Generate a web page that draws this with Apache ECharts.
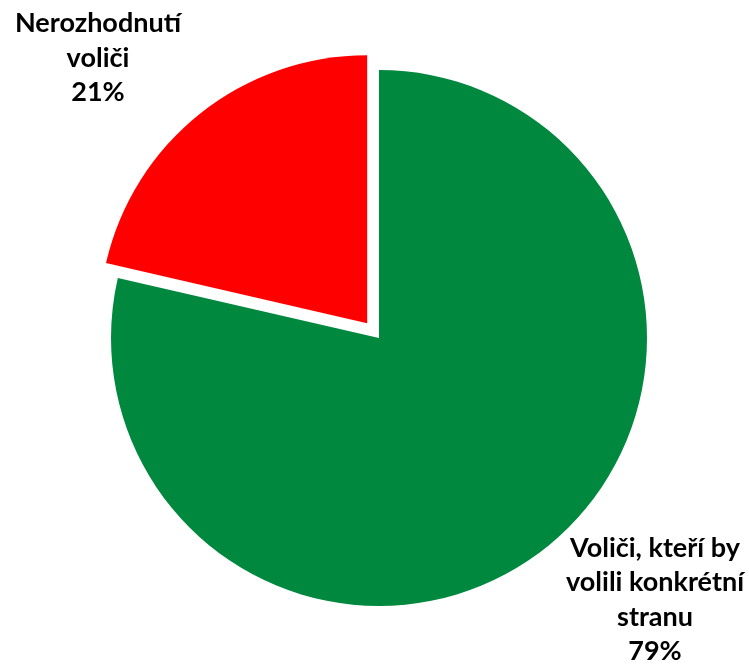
<!DOCTYPE html>
<html><head><meta charset="utf-8">
<script src="https://cdn.jsdelivr.net/npm/echarts@6/dist/echarts.min.js"></script>
<style>html,body{margin:0;padding:0;background:#fff}#c{width:749px;height:668px}</style>
</head><body><div id="c"></div>
<script>
const categories = ['Voliči, kteří by\nvolili konkrétní\nstranu', 'Nerozhodnutí\nvoliči'];
const values = [78.6, 21.4];
const colors = ['#00883E', '#FF0000'];
const labelPos = [[655, 600], [98, 58]];

const total = values.reduce((a, b) => a + b, 0);
const chart = echarts.init(document.getElementById('c'), null, {renderer: 'canvas'});
chart.setOption({
  animation: false,
  graphic: categories.map((c, i) => ({
    type: 'text',
    x: labelPos[i][0],
    y: labelPos[i][1],
    style: {
      text: c + '\n' + Math.round(values[i] / total * 100) + '%',
      font: 'bold 27px Lato',
      lineHeight: 34.5,
      fill: '#000',
      align: 'center',
      verticalAlign: 'middle'
    }
  })),
  series: [{
    type: 'pie',
    center: [379, 338],
    radius: 268,
    startAngle: 90,
    clockwise: true,
    selectedMode: 'single',
    selectedOffset: 19,
    label: {show: false},
    labelLine: {show: false},
    emphasis: {disabled: true},
    data: categories.map((c, i) => ({
      name: c, value: values[i], selected: i === 1,
      itemStyle: {color: colors[i]}
    }))
  }]
});
</script></body></html>
